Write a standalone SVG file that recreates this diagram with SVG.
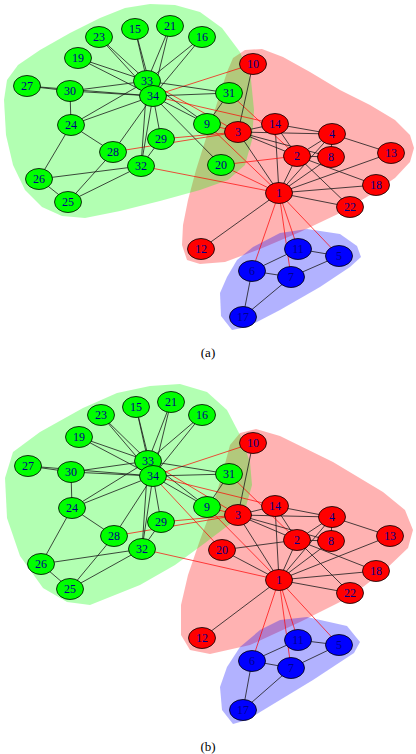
<svg xmlns="http://www.w3.org/2000/svg" width="416" height="754" viewBox="0 0 416 754">
<style>
.hr{fill:#ff0000;fill-opacity:0.3}
.hg{fill:#00ff00;fill-opacity:0.3}
.hb{fill:#0000ff;fill-opacity:0.3}
.k{stroke:#1a1a1a;stroke-width:0.8}
.r{stroke:#ff0000;stroke-width:0.7}
.g ellipse{fill:#00ff00}
.d ellipse{fill:#ff0000}
.b ellipse{fill:#0000ff}
ellipse{stroke:#000;stroke-width:0.8;rx:13.5px;ry:10.5px}
text{font-family:"Liberation Serif","Times New Roman",serif;font-size:12px;fill:#00008b;text-anchor:middle}
.cap{font-size:13px;fill:#000}
</style>
<rect width="416" height="754" fill="#fff"/>
<!-- hulls (a) -->
<g id="hulls-a">
<polygon class="hr" points="233,58 245,50 262,49 283,57 310,72 340,90 370,105 395,120 410,135 414,148 410,162 395,178 370,195 340,213 300,232 260,249 225,262 200,264 187,260 182,245 183,225 188,200 196,170 207,135 218,100 227,72"/>
<polygon class="hg" points="4,100 6,135 13,165 25,190 42,207 62,216 85,218 120,211 160,201 200,190 228,180 245,165 252,140 254,110 251,80 240,52 222,28 200,12 175,5 150,4 125,8 100,18 70,33 40,50 18,65 7,80"/>
<polygon class="hb" points="237,260 253,247 280,233 307,229 340,234 357,246 361,257 350,267 320,287 280,310 247,327 232,330 221,316 220,293 227,277"/>
</g>
<!-- hulls (b) -->
<g id="hulls-b">
<polygon class="hr" points="230,445 240,433 256,429 280,436 333,462 383,492 405,510 413,530 408,548 385,570 350,597 300,622 250,645 210,654 190,650 181,635 181,605 188,575 200,540 213,505 222,475"/>
<polygon class="hg" points="5,478 7,518 20,556 43,588 67,602 90,605 140,585 175,565 205,543 230,524 245,510 252,485 250,462 240,435 227,410 207,392 180,384 150,386 117,393 83,408 40,432 13,452"/>
<polygon class="hb" points="240,647 260,630 280,620 307,617 347,626 360,642 354,653 313,680 280,700 247,720 233,724 222,710 220,687 227,667"/>
</g>
<!-- connectors (a) -->
<g id="edges-a">
<line class="k" x1="279" y1="193" x2="297" y2="156"/>
<line class="k" x1="279" y1="193" x2="238" y2="132"/>
<line class="k" x1="279" y1="193" x2="332" y2="134"/>
<line class="r" x1="279" y1="193" x2="339" y2="256"/>
<line class="r" x1="279" y1="193" x2="252" y2="271"/>
<line class="r" x1="279" y1="193" x2="291" y2="277"/>
<line class="k" x1="279" y1="193" x2="331" y2="157"/>
<line class="r" x1="279" y1="193" x2="207" y2="124"/>
<line class="r" x1="279" y1="193" x2="298" y2="249"/>
<line class="k" x1="279" y1="193" x2="201" y2="249"/>
<line class="k" x1="279" y1="193" x2="391" y2="153"/>
<line class="k" x1="279" y1="193" x2="275" y2="124"/>
<line class="k" x1="279" y1="193" x2="376" y2="185"/>
<line class="r" x1="279" y1="193" x2="221" y2="165"/>
<line class="k" x1="279" y1="193" x2="350" y2="207"/>
<line class="r" x1="279" y1="193" x2="141" y2="166"/>
<line class="k" x1="297" y1="156" x2="238" y2="132"/>
<line class="k" x1="297" y1="156" x2="332" y2="134"/>
<line class="k" x1="297" y1="156" x2="331" y2="157"/>
<line class="k" x1="297" y1="156" x2="275" y2="124"/>
<line class="k" x1="297" y1="156" x2="376" y2="185"/>
<line class="r" x1="297" y1="156" x2="221" y2="165"/>
<line class="k" x1="297" y1="156" x2="350" y2="207"/>
<line class="r" x1="297" y1="156" x2="229" y2="93"/>
<line class="k" x1="238" y1="132" x2="332" y2="134"/>
<line class="k" x1="238" y1="132" x2="331" y2="157"/>
<line class="r" x1="238" y1="132" x2="207" y2="124"/>
<line class="k" x1="238" y1="132" x2="253" y2="64"/>
<line class="k" x1="238" y1="132" x2="275" y2="124"/>
<line class="r" x1="238" y1="132" x2="113" y2="152"/>
<line class="r" x1="238" y1="132" x2="161" y2="139"/>
<line class="r" x1="238" y1="132" x2="147" y2="81"/>
<line class="k" x1="332" y1="134" x2="331" y2="157"/>
<line class="k" x1="332" y1="134" x2="391" y2="153"/>
<line class="k" x1="332" y1="134" x2="275" y2="124"/>
<line class="k" x1="339" y1="256" x2="291" y2="277"/>
<line class="k" x1="339" y1="256" x2="298" y2="249"/>
<line class="k" x1="252" y1="271" x2="291" y2="277"/>
<line class="k" x1="252" y1="271" x2="298" y2="249"/>
<line class="k" x1="252" y1="271" x2="243" y2="317"/>
<line class="k" x1="291" y1="277" x2="243" y2="317"/>
<line class="k" x1="207" y1="124" x2="229" y2="93"/>
<line class="k" x1="207" y1="124" x2="147" y2="81"/>
<line class="k" x1="207" y1="124" x2="153" y2="96"/>
<line class="r" x1="253" y1="64" x2="153" y2="96"/>
<line class="r" x1="275" y1="124" x2="153" y2="96"/>
<line class="k" x1="135" y1="29" x2="147" y2="81"/>
<line class="k" x1="135" y1="29" x2="153" y2="96"/>
<line class="k" x1="202" y1="37" x2="147" y2="81"/>
<line class="k" x1="202" y1="37" x2="153" y2="96"/>
<line class="k" x1="78" y1="58" x2="147" y2="81"/>
<line class="k" x1="78" y1="58" x2="153" y2="96"/>
<line class="k" x1="221" y1="165" x2="153" y2="96"/>
<line class="k" x1="170" y1="26" x2="147" y2="81"/>
<line class="k" x1="170" y1="26" x2="153" y2="96"/>
<line class="k" x1="99" y1="37" x2="147" y2="81"/>
<line class="k" x1="99" y1="37" x2="153" y2="96"/>
<line class="k" x1="71" y1="125" x2="39" y2="179"/>
<line class="k" x1="71" y1="125" x2="113" y2="152"/>
<line class="k" x1="71" y1="125" x2="70" y2="91"/>
<line class="k" x1="71" y1="125" x2="147" y2="81"/>
<line class="k" x1="71" y1="125" x2="153" y2="96"/>
<line class="k" x1="68" y1="202" x2="39" y2="179"/>
<line class="k" x1="68" y1="202" x2="113" y2="152"/>
<line class="k" x1="68" y1="202" x2="141" y2="166"/>
<line class="k" x1="39" y1="179" x2="141" y2="166"/>
<line class="k" x1="27" y1="86" x2="70" y2="91"/>
<line class="k" x1="27" y1="86" x2="153" y2="96"/>
<line class="k" x1="113" y1="152" x2="153" y2="96"/>
<line class="k" x1="161" y1="139" x2="141" y2="166"/>
<line class="k" x1="161" y1="139" x2="153" y2="96"/>
<line class="k" x1="70" y1="91" x2="147" y2="81"/>
<line class="k" x1="70" y1="91" x2="153" y2="96"/>
<line class="k" x1="229" y1="93" x2="147" y2="81"/>
<line class="k" x1="229" y1="93" x2="153" y2="96"/>
<line class="k" x1="141" y1="166" x2="147" y2="81"/>
<line class="k" x1="141" y1="166" x2="153" y2="96"/>
<line class="k" x1="147" y1="81" x2="153" y2="96"/>
</g>
<!-- connectors (b) -->
<g id="edges-b">
<line class="k" x1="279" y1="580" x2="297" y2="540"/>
<line class="k" x1="279" y1="580" x2="238" y2="515"/>
<line class="k" x1="279" y1="580" x2="332" y2="517"/>
<line class="r" x1="279" y1="580" x2="339" y2="645"/>
<line class="r" x1="279" y1="580" x2="252" y2="661"/>
<line class="r" x1="279" y1="580" x2="291" y2="668"/>
<line class="k" x1="279" y1="580" x2="331" y2="541"/>
<line class="r" x1="279" y1="580" x2="207" y2="507"/>
<line class="r" x1="279" y1="580" x2="298" y2="640"/>
<line class="k" x1="279" y1="580" x2="202" y2="638"/>
<line class="k" x1="279" y1="580" x2="390" y2="536"/>
<line class="k" x1="279" y1="580" x2="275" y2="506"/>
<line class="k" x1="279" y1="580" x2="376" y2="571"/>
<line class="k" x1="279" y1="580" x2="222" y2="550"/>
<line class="k" x1="279" y1="580" x2="350" y2="593"/>
<line class="r" x1="279" y1="580" x2="142" y2="549"/>
<line class="k" x1="297" y1="540" x2="238" y2="515"/>
<line class="k" x1="297" y1="540" x2="332" y2="517"/>
<line class="k" x1="297" y1="540" x2="331" y2="541"/>
<line class="k" x1="297" y1="540" x2="275" y2="506"/>
<line class="k" x1="297" y1="540" x2="376" y2="571"/>
<line class="k" x1="297" y1="540" x2="222" y2="550"/>
<line class="k" x1="297" y1="540" x2="350" y2="593"/>
<line class="r" x1="297" y1="540" x2="229" y2="474"/>
<line class="k" x1="238" y1="515" x2="332" y2="517"/>
<line class="k" x1="238" y1="515" x2="331" y2="541"/>
<line class="r" x1="238" y1="515" x2="207" y2="507"/>
<line class="k" x1="238" y1="515" x2="253" y2="443"/>
<line class="k" x1="238" y1="515" x2="275" y2="506"/>
<line class="r" x1="238" y1="515" x2="114" y2="536"/>
<line class="r" x1="238" y1="515" x2="161" y2="522"/>
<line class="r" x1="238" y1="515" x2="148" y2="461"/>
<line class="k" x1="332" y1="517" x2="331" y2="541"/>
<line class="k" x1="332" y1="517" x2="390" y2="536"/>
<line class="k" x1="332" y1="517" x2="275" y2="506"/>
<line class="k" x1="339" y1="645" x2="291" y2="668"/>
<line class="k" x1="339" y1="645" x2="298" y2="640"/>
<line class="k" x1="252" y1="661" x2="291" y2="668"/>
<line class="k" x1="252" y1="661" x2="298" y2="640"/>
<line class="k" x1="252" y1="661" x2="243" y2="710"/>
<line class="k" x1="291" y1="668" x2="243" y2="710"/>
<line class="k" x1="207" y1="507" x2="229" y2="474"/>
<line class="k" x1="207" y1="507" x2="148" y2="461"/>
<line class="k" x1="207" y1="507" x2="153" y2="476"/>
<line class="r" x1="253" y1="443" x2="153" y2="476"/>
<line class="r" x1="275" y1="506" x2="153" y2="476"/>
<line class="k" x1="136" y1="407" x2="148" y2="461"/>
<line class="k" x1="136" y1="407" x2="153" y2="476"/>
<line class="k" x1="202" y1="415" x2="148" y2="461"/>
<line class="k" x1="202" y1="415" x2="153" y2="476"/>
<line class="k" x1="79" y1="437" x2="148" y2="461"/>
<line class="k" x1="79" y1="437" x2="153" y2="476"/>
<line class="r" x1="222" y1="550" x2="153" y2="476"/>
<line class="k" x1="171" y1="402" x2="148" y2="461"/>
<line class="k" x1="171" y1="402" x2="153" y2="476"/>
<line class="k" x1="101" y1="415" x2="148" y2="461"/>
<line class="k" x1="101" y1="415" x2="153" y2="476"/>
<line class="k" x1="72" y1="508" x2="41" y2="564"/>
<line class="k" x1="72" y1="508" x2="114" y2="536"/>
<line class="k" x1="72" y1="508" x2="71" y2="472"/>
<line class="k" x1="72" y1="508" x2="148" y2="461"/>
<line class="k" x1="72" y1="508" x2="153" y2="476"/>
<line class="k" x1="70" y1="589" x2="41" y2="564"/>
<line class="k" x1="70" y1="589" x2="114" y2="536"/>
<line class="k" x1="70" y1="589" x2="142" y2="549"/>
<line class="k" x1="41" y1="564" x2="142" y2="549"/>
<line class="k" x1="28" y1="466" x2="71" y2="472"/>
<line class="k" x1="28" y1="466" x2="153" y2="476"/>
<line class="k" x1="114" y1="536" x2="153" y2="476"/>
<line class="k" x1="161" y1="522" x2="142" y2="549"/>
<line class="k" x1="161" y1="522" x2="153" y2="476"/>
<line class="k" x1="71" y1="472" x2="148" y2="461"/>
<line class="k" x1="71" y1="472" x2="153" y2="476"/>
<line class="k" x1="229" y1="474" x2="148" y2="461"/>
<line class="k" x1="229" y1="474" x2="153" y2="476"/>
<line class="k" x1="142" y1="549" x2="148" y2="461"/>
<line class="k" x1="142" y1="549" x2="153" y2="476"/>
<line class="k" x1="148" y1="461" x2="153" y2="476"/>
</g>
<!-- nodes (a) -->
<g id="a-n1" class="d"><ellipse cx="279" cy="193"/><text x="279" y="197">1</text></g>
<g id="a-n2" class="d"><ellipse cx="297" cy="156"/><text x="297" y="160">2</text></g>
<g id="a-n3" class="d"><ellipse cx="238" cy="132"/><text x="238" y="136">3</text></g>
<g id="a-n4" class="d"><ellipse cx="332" cy="134"/><text x="332" y="138">4</text></g>
<g id="a-n5" class="b"><ellipse cx="339" cy="256"/><text x="339" y="260">5</text></g>
<g id="a-n6" class="b"><ellipse cx="252" cy="271"/><text x="252" y="275">6</text></g>
<g id="a-n7" class="b"><ellipse cx="291" cy="277"/><text x="291" y="281">7</text></g>
<g id="a-n8" class="d"><ellipse cx="331" cy="157"/><text x="331" y="161">8</text></g>
<g id="a-n9" class="g"><ellipse cx="207" cy="124"/><text x="207" y="128">9</text></g>
<g id="a-n10" class="d"><ellipse cx="253" cy="64"/><text x="253" y="68">10</text></g>
<g id="a-n11" class="b"><ellipse cx="298" cy="249"/><text x="298" y="253">11</text></g>
<g id="a-n12" class="d"><ellipse cx="201" cy="249"/><text x="201" y="253">12</text></g>
<g id="a-n13" class="d"><ellipse cx="391" cy="153"/><text x="391" y="157">13</text></g>
<g id="a-n14" class="d"><ellipse cx="275" cy="124"/><text x="275" y="128">14</text></g>
<g id="a-n15" class="g"><ellipse cx="135" cy="29"/><text x="135" y="33">15</text></g>
<g id="a-n16" class="g"><ellipse cx="202" cy="37"/><text x="202" y="41">16</text></g>
<g id="a-n17" class="b"><ellipse cx="243" cy="317"/><text x="243" y="321">17</text></g>
<g id="a-n18" class="d"><ellipse cx="376" cy="185"/><text x="376" y="189">18</text></g>
<g id="a-n19" class="g"><ellipse cx="78" cy="58"/><text x="78" y="62">19</text></g>
<g id="a-n20" class="g"><ellipse cx="221" cy="165"/><text x="221" y="169">20</text></g>
<g id="a-n21" class="g"><ellipse cx="170" cy="26"/><text x="170" y="30">21</text></g>
<g id="a-n22" class="d"><ellipse cx="350" cy="207"/><text x="350" y="211">22</text></g>
<g id="a-n23" class="g"><ellipse cx="99" cy="37"/><text x="99" y="41">23</text></g>
<g id="a-n24" class="g"><ellipse cx="71" cy="125"/><text x="71" y="129">24</text></g>
<g id="a-n25" class="g"><ellipse cx="68" cy="202"/><text x="68" y="206">25</text></g>
<g id="a-n26" class="g"><ellipse cx="39" cy="179"/><text x="39" y="183">26</text></g>
<g id="a-n27" class="g"><ellipse cx="27" cy="86"/><text x="27" y="90">27</text></g>
<g id="a-n28" class="g"><ellipse cx="113" cy="152"/><text x="113" y="156">28</text></g>
<g id="a-n29" class="g"><ellipse cx="161" cy="139"/><text x="161" y="143">29</text></g>
<g id="a-n30" class="g"><ellipse cx="70" cy="91"/><text x="70" y="95">30</text></g>
<g id="a-n31" class="g"><ellipse cx="229" cy="93"/><text x="229" y="97">31</text></g>
<g id="a-n32" class="g"><ellipse cx="141" cy="166"/><text x="141" y="170">32</text></g>
<g id="a-n33" class="g"><ellipse cx="147" cy="81"/><text x="147" y="85">33</text></g>
<g id="a-n34" class="g"><ellipse cx="153" cy="96"/><text x="153" y="100">34</text></g>
<text class="cap" x="208" y="357">(a)</text>
<!-- nodes (b) -->
<g id="b-n1" class="d"><ellipse cx="279" cy="580"/><text x="279" y="584">1</text></g>
<g id="b-n2" class="d"><ellipse cx="297" cy="540"/><text x="297" y="544">2</text></g>
<g id="b-n3" class="d"><ellipse cx="238" cy="515"/><text x="238" y="519">3</text></g>
<g id="b-n4" class="d"><ellipse cx="332" cy="517"/><text x="332" y="521">4</text></g>
<g id="b-n5" class="b"><ellipse cx="339" cy="645"/><text x="339" y="649">5</text></g>
<g id="b-n6" class="b"><ellipse cx="252" cy="661"/><text x="252" y="665">6</text></g>
<g id="b-n7" class="b"><ellipse cx="291" cy="668"/><text x="291" y="672">7</text></g>
<g id="b-n8" class="d"><ellipse cx="331" cy="541"/><text x="331" y="545">8</text></g>
<g id="b-n9" class="g"><ellipse cx="207" cy="507"/><text x="207" y="511">9</text></g>
<g id="b-n10" class="d"><ellipse cx="253" cy="443"/><text x="253" y="447">10</text></g>
<g id="b-n11" class="b"><ellipse cx="298" cy="640"/><text x="298" y="644">11</text></g>
<g id="b-n12" class="d"><ellipse cx="202" cy="638"/><text x="202" y="642">12</text></g>
<g id="b-n13" class="d"><ellipse cx="390" cy="536"/><text x="390" y="540">13</text></g>
<g id="b-n14" class="d"><ellipse cx="275" cy="506"/><text x="275" y="510">14</text></g>
<g id="b-n15" class="g"><ellipse cx="136" cy="407"/><text x="136" y="411">15</text></g>
<g id="b-n16" class="g"><ellipse cx="202" cy="415"/><text x="202" y="419">16</text></g>
<g id="b-n17" class="b"><ellipse cx="243" cy="710"/><text x="243" y="714">17</text></g>
<g id="b-n18" class="d"><ellipse cx="376" cy="571"/><text x="376" y="575">18</text></g>
<g id="b-n19" class="g"><ellipse cx="79" cy="437"/><text x="79" y="441">19</text></g>
<g id="b-n20" class="d"><ellipse cx="222" cy="550"/><text x="222" y="554">20</text></g>
<g id="b-n21" class="g"><ellipse cx="171" cy="402"/><text x="171" y="406">21</text></g>
<g id="b-n22" class="d"><ellipse cx="350" cy="593"/><text x="350" y="597">22</text></g>
<g id="b-n23" class="g"><ellipse cx="101" cy="415"/><text x="101" y="419">23</text></g>
<g id="b-n24" class="g"><ellipse cx="72" cy="508"/><text x="72" y="512">24</text></g>
<g id="b-n25" class="g"><ellipse cx="70" cy="589"/><text x="70" y="593">25</text></g>
<g id="b-n26" class="g"><ellipse cx="41" cy="564"/><text x="41" y="568">26</text></g>
<g id="b-n27" class="g"><ellipse cx="28" cy="466"/><text x="28" y="470">27</text></g>
<g id="b-n28" class="g"><ellipse cx="114" cy="536"/><text x="114" y="540">28</text></g>
<g id="b-n29" class="g"><ellipse cx="161" cy="522"/><text x="161" y="526">29</text></g>
<g id="b-n30" class="g"><ellipse cx="71" cy="472"/><text x="71" y="476">30</text></g>
<g id="b-n31" class="g"><ellipse cx="229" cy="474"/><text x="229" y="478">31</text></g>
<g id="b-n32" class="g"><ellipse cx="142" cy="549"/><text x="142" y="553">32</text></g>
<g id="b-n33" class="g"><ellipse cx="148" cy="461"/><text x="148" y="465">33</text></g>
<g id="b-n34" class="g"><ellipse cx="153" cy="476"/><text x="153" y="480">34</text></g>
<text class="cap" x="208" y="751">(b)</text>
</svg>
